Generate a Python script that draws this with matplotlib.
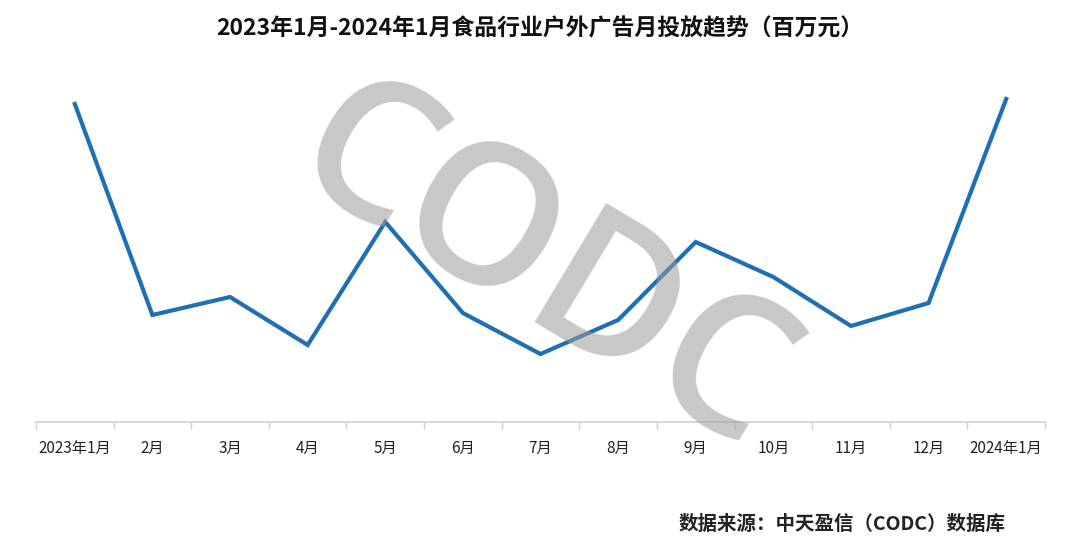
import matplotlib
matplotlib.use("Agg")
from matplotlib import pyplot as plt
import numpy as np

plt.rcParams["font.family"] = ["Noto Sans CJK SC", "DejaVu Sans"]

# Month labels and monthly spend (arbitrary scale)
months = ["2023年1月", "2月", "3月", "4月", "5月", "6月", "7月",
          "8月", "9月", "10月", "11月", "12月", "2024年1月"]
spend = [318, 107, 125, 77, 200, 109, 68, 102, 180, 145, 96, 119, 323]

title = "2023年1月-2024年1月食品行业户外广告月投放趋势（百万元）"
source = "数据来源：中天盈信（CODC）数据库"

fig = plt.figure(figsize=(10.8, 5.47), dpi=100)
ax = fig.add_axes([36 / 1080, 1 - 422 / 547, 1009 / 1080, 350 / 547])

x = np.arange(len(months))
ax.plot(x, spend, color="#1f6fb4", linewidth=3.0, solid_joinstyle="miter", zorder=2)

ax.set_xlim(-0.5, len(months) - 0.5)
ax.set_ylim(0, 350)

# labels in the middle of each category, tick marks on the boundaries
ax.set_xticks(x)
ax.set_xticklabels(months, fontsize=11, color="#222222")
ax.tick_params(axis="x", which="major", length=0, pad=13)
ax.set_xticks(np.arange(-0.5, len(months)), minor=True)
ax.tick_params(axis="x", which="minor", length=5, width=1, color="#cfcfcf")
ax.set_yticks([])

for side in ["top", "right", "left"]:
    ax.spines[side].set_visible(False)
ax.spines["bottom"].set_color("#cfcfcf")
ax.spines["bottom"].set_linewidth(1.2)

# watermark
fig.text(0.50, 0.50, "CODC", fontsize=140, color="#9a9a9a", alpha=0.55,
         rotation=-31, ha="center", va="center", family="Open Sans",
         fontweight="semibold", zorder=5)

fig.text(0.5, 0.948, title, fontsize=16.5, fontweight="bold", ha="center",
         va="center", color="#111111")
fig.text(0.931, 0.042, source, fontsize=14, fontweight="bold", ha="right",
         va="center", color="#222222")

fig.savefig("out.png", dpi=100)
